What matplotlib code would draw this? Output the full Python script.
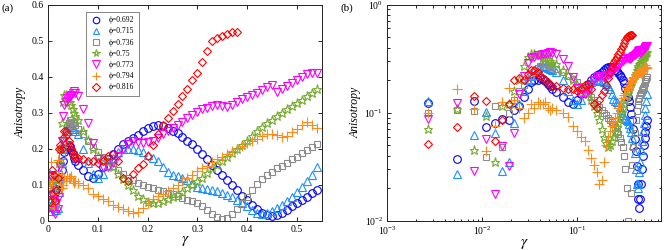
import matplotlib
matplotlib.use('Agg')
import matplotlib.pyplot as plt
from matplotlib.ticker import LogLocator, NullFormatter, FixedLocator
import numpy as np

plt.rcParams['font.family'] = ['Liberation Serif', 'DejaVu Serif']
plt.rcParams['mathtext.fontset'] = 'stix'

# strain values: first 20 points at the raw step, then every 0.01
g_fine = [0.0027, 0.0054, 0.0082, 0.0109, 0.0136, 0.0163, 0.0190, 0.0218, 0.0245, 0.0272,
          0.0299, 0.0326, 0.0354, 0.0381, 0.0408, 0.0435, 0.0462, 0.0490, 0.0517, 0.0544]
g_coarse = [0.06, 0.07, 0.08, 0.09, 0.10, 0.11, 0.12, 0.13, 0.14, 0.15,
            0.16, 0.17, 0.18, 0.19, 0.20, 0.21, 0.22, 0.23, 0.24, 0.25,
            0.26, 0.27, 0.28, 0.29, 0.30, 0.31, 0.32, 0.33, 0.34, 0.35,
            0.36, 0.37, 0.38, 0.39, 0.40, 0.41, 0.42, 0.43, 0.44, 0.45,
            0.46, 0.47, 0.48, 0.49, 0.50, 0.51, 0.52, 0.53, 0.54]

phi_labels = ['0.692', '0.715', '0.736', '0.75', '0.773', '0.794', '0.816']

a_692 = [0.124, 0.037, 0.128, 0.073, 0.081, 0.087, 0.085, 0.106, 0.115, 0.14,
         0.165, 0.19, 0.2, 0.2, 0.21, 0.205, 0.195, 0.185, 0.175, 0.165,
         0.155, 0.14, 0.125, 0.12, 0.13, 0.15, 0.17, 0.185, 0.2, 0.212,
         0.222, 0.23, 0.238, 0.248, 0.256, 0.262, 0.265, 0.262, 0.257, 0.25,
         0.243, 0.233, 0.222, 0.212, 0.2, 0.186, 0.17, 0.155, 0.14, 0.127,
         0.112, 0.098, 0.085, 0.07, 0.057, 0.044, 0.032, 0.022, 0.016, 0.013,
         0.016, 0.022, 0.03, 0.04, 0.05, 0.058, 0.066, 0.076, 0.086]
a_715 = [0.129, 0.027, 0.062, 0.102, 0.065, 0.029, 0.035, 0.08, 0.12, 0.16,
         0.2, 0.22, 0.25, 0.26, 0.27, 0.27, 0.265, 0.26, 0.255, 0.25,
         0.24, 0.2, 0.16, 0.13, 0.12, 0.13, 0.155, 0.175, 0.19, 0.2,
         0.2, 0.198, 0.195, 0.19, 0.183, 0.175, 0.165, 0.15, 0.135, 0.128,
         0.125, 0.12, 0.113, 0.105, 0.095, 0.09, 0.088, 0.086, 0.083, 0.078,
         0.072, 0.066, 0.058, 0.05, 0.042, 0.03, 0.022, 0.02, 0.022, 0.028,
         0.035, 0.045, 0.055, 0.067, 0.08, 0.095, 0.11, 0.128, 0.148]
a_736 = [0.1, 0.105, 0.104, 0.039, 0.115, 0.048, 0.1, 0.13, 0.16, 0.18,
         0.2, 0.22, 0.24, 0.26, 0.27, 0.28, 0.28, 0.275, 0.27, 0.265,
         0.255, 0.24, 0.22, 0.205, 0.19, 0.178, 0.165, 0.152, 0.14, 0.13,
         0.12, 0.112, 0.105, 0.1, 0.095, 0.09, 0.086, 0.082, 0.078, 0.073,
         0.068, 0.063, 0.058, 0.054, 0.048, 0.04, 0.03, 0.02, 0.01, 0.006,
         0.009, 0.018, 0.033, 0.048, 0.065, 0.085, 0.103, 0.117, 0.127, 0.136,
         0.145, 0.153, 0.161, 0.17, 0.178, 0.187, 0.196, 0.204, 0.212]
a_750 = [0.071, 0.108, 0.045, 0.093, 0.035, 0.114, 0.12, 0.16, 0.2, 0.27,
         0.33, 0.35, 0.35, 0.34, 0.34, 0.33, 0.32, 0.31, 0.3, 0.29,
         0.28, 0.25, 0.225, 0.2, 0.18, 0.17, 0.162, 0.15, 0.13, 0.115,
         0.1, 0.085, 0.07, 0.06, 0.052, 0.048, 0.05, 0.055, 0.06, 0.066,
         0.073, 0.08, 0.09, 0.1, 0.11, 0.12, 0.132, 0.145, 0.156, 0.167,
         0.178, 0.188, 0.198, 0.21, 0.222, 0.235, 0.248, 0.26, 0.27, 0.28,
         0.29, 0.3, 0.31, 0.318, 0.326, 0.335, 0.345, 0.355, 0.365]
a_773 = [0.088, 0.124, 0.029, 0.057, 0.0175, 0.049, 0.032, 0.065, 0.15, 0.22,
         0.29, 0.32, 0.33, 0.34, 0.34, 0.345, 0.35, 0.355, 0.36, 0.355,
         0.345, 0.31, 0.27, 0.215, 0.17, 0.15, 0.148, 0.16, 0.18, 0.2,
         0.213, 0.22, 0.218, 0.215, 0.218, 0.222, 0.23, 0.24, 0.248, 0.256,
         0.265, 0.275, 0.284, 0.293, 0.302, 0.31, 0.314, 0.318, 0.32, 0.318,
         0.316, 0.322, 0.33, 0.337, 0.342, 0.348, 0.355, 0.362, 0.372, 0.376,
         0.358, 0.365, 0.375, 0.383, 0.39, 0.398, 0.406, 0.41, 0.41]
a_794 = [0.1, 0.164, 0.109, 0.044, 0.075, 0.126, 0.168, 0.13, 0.11, 0.09,
         0.1, 0.12, 0.11, 0.125, 0.12, 0.12, 0.125, 0.11, 0.105, 0.11,
         0.105, 0.1, 0.092, 0.075, 0.068, 0.06, 0.055, 0.045, 0.038, 0.033,
         0.028, 0.022, 0.024, 0.035, 0.05, 0.06, 0.068, 0.075, 0.082, 0.09,
         0.1, 0.11, 0.118, 0.128, 0.137, 0.145, 0.153, 0.162, 0.17, 0.178,
         0.186, 0.194, 0.2, 0.208, 0.215, 0.222, 0.228, 0.235, 0.24, 0.242,
         0.238, 0.233, 0.235, 0.245, 0.255, 0.265, 0.273, 0.265, 0.258]
a_816 = [0.051, 0.074, 0.142, 0.128, 0.055, 0.085, 0.12, 0.2, 0.21, 0.2,
         0.23, 0.25, 0.25, 0.24, 0.22, 0.21, 0.2, 0.19, 0.18, 0.175,
         0.175, 0.17, 0.165, 0.165, 0.16, 0.165, 0.18, 0.185, 0.165, 0.12,
         0.11, 0.13, 0.145, 0.158, 0.18, 0.21, 0.24, 0.265, 0.285, 0.305,
         0.325, 0.345, 0.365, 0.39, 0.41, 0.44, 0.47, 0.5, 0.508, 0.512,
         0.518, 0.524, 0.525]

series = [a_692, a_715, a_736, a_750, a_773, a_794, a_816]
colors = ['#0000FF', '#1E90FF', '#8C8C8C', '#77AC30', '#FF00FF', '#FF8C1A', '#FF0000']
markers = ['o', '^', 's', '*', 'v', '+', 'D']
msizes = [5.5, 5.5, 4.5, 6.5, 6, 6.5, 4.5]

gamma = g_fine + g_coarse

fig = plt.figure(figsize=(6.64, 2.5), dpi=100)
ax1 = fig.add_axes([0.0727, 0.117, 0.4117, 0.865])
ax2 = fig.add_axes([0.5833, 0.117, 0.4122, 0.865])

for vals, c, m, ms, lab in zip(series, colors, markers, msizes, phi_labels):
    g = gamma[:len(vals)]
    kw = dict(linestyle='none', marker=m, markersize=ms, color=c,
              markerfacecolor='none', markeredgewidth=0.8)
    ax1.plot(g, vals, label='\u03d5=' + lab, **kw)
    ax2.plot(g, vals, **kw)

ax1.set_xlim(0, 0.55)
ax1.set_ylim(0, 0.6)
ax1.set_xticks([0, 0.1, 0.2, 0.3, 0.4, 0.5])
ax1.set_xticklabels(['0', '0.1', '0.2', '0.3', '0.4', '0.5'])
ax1.set_yticks([0, 0.1, 0.2, 0.3, 0.4, 0.5, 0.6])
ax1.set_yticklabels(['0', '0.1', '0.2', '0.3', '0.4', '0.5', '0.6'])
ax1.set_xlabel(r'$\gamma$', fontsize=11, labelpad=0)
ax1.set_ylabel('Anisotropy', fontsize=8.5, style='italic', labelpad=4)

leg = ax1.legend(loc='upper left', bbox_to_anchor=(0.138, 0.967), borderaxespad=0,
                 fontsize=5.5, labelspacing=0.42, handlelength=1.4, handletextpad=1.0,
                 borderpad=0.6, markerscale=0.85, fancybox=False, framealpha=1,
                 edgecolor='#555555')
leg.get_frame().set_linewidth(0.5)

ax2.set_xscale('log')
ax2.set_yscale('log')
ax2.set_xlim(1e-3, 0.76)
ax2.set_ylim(1e-2, 1)
ax2.xaxis.set_major_locator(FixedLocator([1e-3, 1e-2, 1e-1]))
ax2.xaxis.set_minor_locator(LogLocator(base=10, subs=np.arange(2, 10)))
ax2.xaxis.set_minor_formatter(NullFormatter())
ax2.yaxis.set_minor_locator(LogLocator(base=10, subs=np.arange(2, 10)))
ax2.yaxis.set_minor_formatter(NullFormatter())
ax2.set_xlabel(r'$\gamma$', fontsize=11, labelpad=0)
ax2.set_ylabel('Anisotropy', fontsize=8.5, style='italic', labelpad=2)

for ax in (ax1, ax2):
    ax.tick_params(direction='in', which='both', top=True, right=True,
                   labelsize=7, width=0.6, pad=3)
    ax.tick_params(which='major', length=3)
    ax.tick_params(which='minor', length=1.8)
    for s in ax.spines.values():
        s.set_linewidth(0.7)
        s.set_color('#222222')

fig.text(0.002, 0.985, '(a)', fontsize=8, va='top', ha='left')
fig.text(0.513, 0.985, '(b)', fontsize=8, va='top', ha='left')

fig.savefig('out.png', dpi=100)
